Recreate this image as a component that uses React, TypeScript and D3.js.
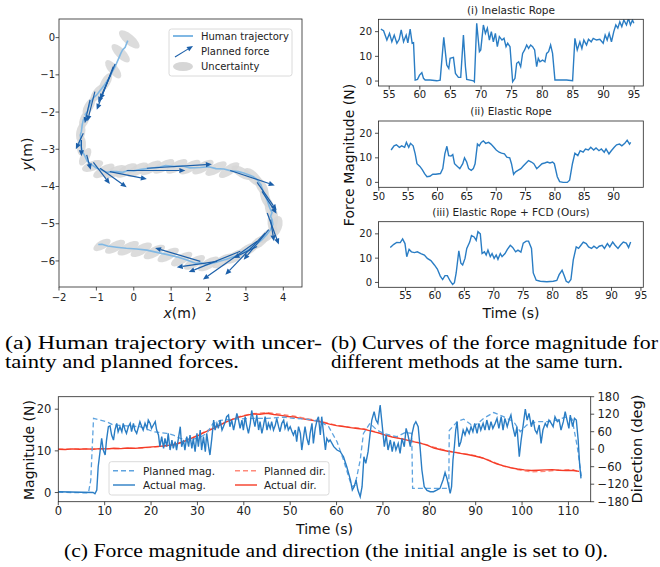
import React from 'react';
import * as d3 from 'd3';

const SANS = "'DejaVu Sans', sans-serif";
const SERIF = "'Liberation Serif', 'Times New Roman', serif";

// ---------------- Panel (a) data ----------------
const trajX = [-0.16,-0.2,-0.23,-0.3,-0.35,-0.4,-0.46,-0.5,-0.55,-0.6,-0.64,-0.72,-0.81,-0.9,-0.99,-1.08,-1.15,-1.2,-1.24,-1.3,-1.27,-1.35,-1.38,-1.4,-1.43,-1.42,-1.44,-1.4,-1.37,-1.3,-1.24,-1.12,-0.99,-0.86,-0.72,-0.6,-0.46,-0.3,-0.15,0.0,0.2,0.44,0.7,0.85,1.06,1.3,1.5,1.78,2.0,2.2,2.41,2.6,2.8,2.94,3.1,3.2,3.3,3.4,3.48,3.56,3.64,3.7,3.66,3.7,3.72,3.66,3.55,3.43,3.25,3.03,2.8,2.5,2.25,1.96,1.8,1.65,1.4,1.15,0.9,0.62,0.35,0.08,-0.2,-0.46,-0.7,-0.85,-0.95];
const trajY = [-0.08,-0.18,-0.26,-0.33,-0.43,-0.55,-0.69,-0.78,-0.87,-0.97,-1.05,-1.17,-1.31,-1.42,-1.54,-1.62,-1.72,-1.86,-1.99,-2.06,-2.12,-2.21,-2.35,-2.52,-2.62,-2.7,-2.85,-2.95,-3.06,-3.2,-3.33,-3.42,-3.51,-3.56,-3.62,-3.6,-3.6,-3.62,-3.57,-3.58,-3.54,-3.51,-3.48,-3.44,-3.46,-3.45,-3.5,-3.49,-3.47,-3.52,-3.53,-3.58,-3.6,-3.64,-3.7,-3.74,-3.82,-3.95,-4.18,-4.35,-4.58,-4.7,-4.8,-4.89,-5.02,-5.16,-5.3,-5.43,-5.58,-5.72,-5.84,-5.95,-6.02,-6.1,-6.05,-6.06,-5.97,-5.89,-5.83,-5.77,-5.71,-5.68,-5.66,-5.63,-5.6,-5.55,-5.56];

// uncertainty ellipses: [x, y, semi-major, semi-minor, angle deg (ccw)]
const ellipses = [
  [-0.12,-0.05,0.34,0.14,-40],[-0.35,-0.42,0.32,0.13,-45],[-0.55,-0.85,0.3,0.13,-50],
  [-0.75,-1.2,0.28,0.12,60],[-0.98,-1.5,0.28,0.12,55],[-1.2,-1.85,0.27,0.12,60],
  [-1.32,-2.2,0.26,0.12,70],[-1.42,-2.55,0.26,0.12,80],[-1.4,-2.9,0.26,0.12,85],
  [-1.3,-3.2,0.26,0.12,60],[-1.1,-3.45,0.3,0.13,20],[-0.8,-3.58,0.32,0.13,30],
  [-0.5,-3.6,0.32,0.13,25],[-0.2,-3.57,0.32,0.13,30],[0.1,-3.55,0.32,0.13,30],
  [0.45,-3.5,0.32,0.13,30],[0.8,-3.46,0.32,0.13,30],[1.15,-3.46,0.32,0.13,30],
  [1.5,-3.48,0.32,0.13,30],[1.85,-3.48,0.32,0.13,30],[2.2,-3.52,0.32,0.13,30],
  [2.55,-3.56,0.32,0.13,35],[2.9,-3.63,0.32,0.13,-30],[3.2,-3.75,0.32,0.14,-45],
  [3.42,-4.0,0.3,0.13,-60],[3.52,-4.3,0.28,0.12,-70],[3.63,-4.58,0.28,0.12,-80],
  [3.72,-4.9,0.32,0.14,85],[3.8,-5.08,0.3,0.16,70],[3.6,-5.3,0.3,0.13,40],
  [3.35,-5.5,0.3,0.13,35],[3.05,-5.7,0.32,0.13,30],[2.72,-5.88,0.32,0.13,30],
  [2.38,-6.0,0.32,0.13,30],[2.0,-6.08,0.32,0.13,30],[1.62,-6.04,0.32,0.13,30],
  [1.28,-5.95,0.32,0.13,30],[0.92,-5.84,0.32,0.13,30],[0.55,-5.76,0.32,0.13,30],
  [0.2,-5.7,0.32,0.13,30],[-0.15,-5.66,0.32,0.13,30],[-0.5,-5.62,0.3,0.13,30],
  [-0.85,-5.57,0.26,0.12,30],
];

// planned force arrows: [x0, y0, x1, y1]
const arrows = [
  [-0.5,-0.71,-0.9,-1.67],[-0.55,-0.78,-0.99,-1.94],[-0.62,-1.0,-0.95,-1.75],
  [-1.04,-1.45,-1.24,-2.25],[-1.17,-1.67,-1.31,-2.3],[-1.35,-2.57,-1.55,-3.0],
  [-1.4,-2.75,-1.4,-3.19],[-1.26,-3.15,-1.15,-3.55],[-1.08,-3.35,-0.64,-3.93],
  [-0.9,-3.51,-0.19,-4.02],[-0.64,-3.6,0.35,-3.8],[-0.19,-3.57,1.38,-3.57],
  [0.35,-3.51,2.09,-3.4],[2.58,-3.57,3.77,-3.97],[3.3,-3.89,3.82,-4.64],
  [3.43,-4.13,3.82,-4.73],[3.57,-4.71,3.88,-5.56],[3.66,-4.89,3.75,-5.47],
  [3.61,-5.16,2.94,-5.97],[3.52,-5.25,2.45,-6.37],[3.3,-5.47,1.85,-6.5],
  [2.85,-5.74,1.47,-6.3],[2.23,-6.01,1.15,-6.17],[1.78,-6.01,0.57,-5.65],
  [3.3,-5.61,2.67,-5.92],
];
const aXTicks = [-2,-1,0,1,2,3,4];
const aYTicks = [0,-1,-2,-3,-4,-5,-6];

// ---------------- Panel (b) data ----------------
const inelastic = [
  [53.64,21.0],[54.08,20.4],[54.62,16.6],[55.05,19.3],[55.43,15.9],[55.82,18.6],[56.25,15.3],[56.63,16.9],[56.96,20.7],[57.34,15.9],[57.77,18.6],[58.04,15.5],[58.42,21.0],[58.75,15.3],[58.97,15.5],[59.24,0.4],[59.62,0.7],[59.95,2.4],[60.33,3.4],[60.6,1.1],[60.87,0.4],[61.68,0.4],[62.77,0.1],[63.32,0.4],[63.91,17.7],[64.4,6.5],[64.73,5.1],[64.95,9.2],[65.49,9.6],[65.82,3.1],[66.3,1.5],[66.68,1.5],[67.12,18.6],[67.45,5.8],[67.66,0.7],[68.21,0.4],[68.75,0.1],[68.91,-0.3],[69.29,23.4],[69.73,11.9],[69.95,12.6],[70.38,22.7],[70.71,19.3],[71.03,21.4],[71.36,16.6],[71.68,20.0],[72.01,15.9],[72.34,19.3],[72.66,13.9],[72.99,18.0],[73.42,16.6],[73.75,17.3],[74.08,13.9],[74.35,15.3],[74.73,13.9],[75.16,-0.3],[75.54,1.1],[75.82,7.2],[76.14,7.8],[76.47,5.8],[76.79,11.2],[77.12,12.6],[77.45,14.6],[77.77,13.2],[78.1,14.6],[78.42,13.9],[78.75,12.6],[79.08,5.8],[79.35,9.2],[79.62,7.8],[80.05,8.5],[80.43,7.8],[80.71,11.2],[81.03,11.9],[81.36,14.6],[81.68,11.2],[82.07,0.4],[82.88,0.4],[83.97,0.4],[84.95,0.1],[85.33,17.3],[85.71,12.6],[86.14,15.9],[86.47,13.2],[86.79,16.6],[87.23,14.6],[87.55,16.9],[87.99,15.9],[88.32,17.3],[88.86,16.6],[89.4,16.9],[89.95,15.3],[90.27,18.6],[90.6,16.6],[90.92,19.3],[91.3,15.9],[91.68,20.0],[92.01,22.7],[92.34,21.4],[92.66,24.0],[92.99,22.0],[93.32,24.7],[93.75,22.7],[94.08,25.4],[94.4,22.7],[94.73,24.7],[94.95,23.4],
];
const elastic = [
  [52.1,13.2],[52.6,14.9],[53.0,15.3],[53.5,14.3],[53.9,14.9],[54.4,14.3],[54.7,16.3],[55.1,14.3],[55.4,15.9],[55.85,14.9],[56.2,11.6],[56.5,7.6],[57.0,6.5],[57.4,5.2],[57.8,3.6],[58.2,2.3],[58.7,2.5],[59.2,3.3],[59.7,3.3],[60.5,3.6],[60.9,5.6],[61.25,11.6],[61.6,14.7],[61.9,10.9],[62.3,10.7],[62.6,11.3],[62.9,7.6],[63.4,6.5],[63.8,5.6],[64.3,7.6],[64.6,10.0],[64.97,8.3],[65.3,5.6],[65.75,4.9],[66.1,5.6],[66.4,7.6],[66.8,15.6],[67.1,14.9],[67.45,16.3],[67.8,16.9],[68.2,15.9],[68.7,16.3],[69.1,15.6],[69.6,14.3],[70.0,13.2],[70.5,12.3],[70.9,11.9],[71.4,11.6],[71.8,10.3],[72.3,10.0],[72.6,7.6],[72.96,3.3],[73.3,4.3],[73.7,4.9],[74.2,5.6],[74.6,6.7],[75.1,7.9],[75.5,8.9],[76.0,8.3],[76.4,7.6],[76.9,5.6],[77.3,6.5],[77.8,7.6],[78.25,7.9],[78.7,8.3],[79.15,7.9],[79.6,8.3],[79.9,7.6],[80.4,2.3],[80.8,0.3],[81.4,0.0],[82.1,0.0],[82.5,0.9],[82.98,7.6],[83.4,11.9],[83.9,10.9],[84.3,12.9],[84.8,12.3],[85.2,13.6],[85.7,13.2],[86.1,14.3],[86.6,13.2],[87.0,14.0],[87.5,12.9],[87.9,13.6],[88.4,12.3],[88.7,13.6],[89.2,11.6],[89.6,12.9],[90.1,14.3],[90.5,15.3],[91.0,15.6],[91.4,14.9],[91.9,15.9],[92.3,17.2],[92.7,15.6],[92.9,16.3],
];
const fcd = [
  [52.4,14.4],[53.0,15.7],[53.5,16.5],[54.1,16.4],[54.5,17.9],[54.9,16.0],[55.2,10.6],[55.6,13.6],[56.0,12.6],[56.5,12.3],[57.0,12.6],[57.6,11.9],[58.2,11.3],[58.7,9.9],[59.3,9.0],[59.9,7.2],[60.4,5.5],[60.9,2.6],[61.3,1.2],[61.7,2.8],[62.1,2.8],[62.6,0.5],[63.0,-0.8],[63.3,-0.1],[63.6,3.9],[64.05,13.0],[64.4,7.9],[64.7,7.2],[65.1,9.9],[65.4,14.0],[65.9,16.6],[66.2,19.3],[66.65,18.7],[67.0,17.3],[67.3,20.9],[67.7,20.0],[68.0,11.9],[68.4,12.6],[68.7,11.3],[69.0,13.3],[69.4,10.6],[69.7,11.9],[70.05,9.9],[70.4,11.3],[70.7,9.5],[71.1,11.9],[71.4,10.6],[71.9,11.9],[72.3,13.6],[72.8,15.3],[73.2,14.4],[73.7,12.6],[74.1,13.3],[74.6,12.5],[75.0,16.2],[75.5,17.0],[75.9,17.0],[76.4,14.0],[76.7,3.9],[77.2,0.9],[77.9,0.5],[79.0,0.3],[80.1,0.5],[80.7,0.8],[81.1,3.2],[81.6,5.0],[81.9,3.2],[82.3,0.5],[82.7,-0.1],[83.1,1.2],[83.5,9.3],[84.0,14.6],[84.4,14.0],[84.8,15.3],[85.2,16.6],[85.7,16.0],[86.1,14.6],[86.6,14.0],[87.0,14.9],[87.5,14.0],[87.9,14.9],[88.4,15.3],[88.8,14.0],[89.3,16.0],[89.7,14.6],[90.2,16.6],[90.6,15.3],[91.1,14.0],[91.5,15.3],[92.0,16.6],[92.5,16.2],[92.9,14.4],[93.25,16.6],
];
const bTitles = ['(i) Inelastic Rope', '(ii) Elastic Rope', '(iii) Elastic Rope + FCD (Ours)'];
const b1XTicks = [55,60,65,70,75,80,85,90,95];
const b2XTicks = [50,55,60,65,70,75,80,85,90];
const b3XTicks = [55,60,65,70,75,80,85,90,95];
const bYTicks = [0,10,20];

// ---------------- Panel (c) data ----------------
const plannedMag = [
  [0,0.1],[6.5,-0.1],[7.0,3],[7.6,17.8],[9,17.4],[10.4,17],[11.9,16.2],[14.7,16],[17.6,15.8],[19.1,15.2],[20.5,14.6],[21.9,14.4],[23.4,14.2],[24.8,13.8],[26.3,13],[27.7,12.8],[29.1,12.8],[30.6,13.3],[32,14.2],[33.3,16.5],[34.9,17.3],[37.8,17.6],[41.4,17.8],[45,17.8],[48.6,18.1],[50.7,17.8],[53.6,17.6],[56.5,17],[58.3,15.8],[60.1,12.2],[61.5,7.8],[62.6,3.8],[63.3,1.4],[64,1.8],[65.1,7.8],[65.8,14.2],[67.2,16.6],[68.7,15],[70.1,14.2],[73,13.4],[74.8,14.4],[76.2,14.2],[76.4,1],[78.8,1],[83.1,1],[84.2,1],[84.3,14.9],[86,17],[87.4,17.6],[89.6,15.8],[91.7,17.8],[93.9,19.2],[96,18.2],[98.2,17],[99.6,14.6],[101,16.2],[103.2,17],[105.4,17],[107.5,17.4],[109.7,18.2],[110.8,17.6],[111.9,11],[112.8,3.8],
];
const actualMag = [
  [0,0.2],[7.5,0],[7.9,-0.3],[8.3,0.6],[8.6,6.2],[9,9.8],[9.35,13],[9.7,10.2],[10.1,9],[10.4,12.6],[10.8,15.8],[11.15,16],[11.5,13.8],[11.9,12.6],[12.2,15],[12.6,16.6],[12.9,14.6],[13.3,15.8],[13.7,14.6],[14,16.6],[14.4,15],[14.7,14.2],[15.1,15.8],[15.5,16.6],[15.8,14.6],[16.2,16.6],[16.5,15],[16.9,14.2],[17.3,15.8],[17.6,17],[18,15.8],[18.3,15],[18.7,16.6],[19.1,15.4],[19.4,17.4],[19.8,16.6],[20.1,15.4],[20.5,16.2],[20.9,17],[21.2,15],[21.6,13.8],[21.9,11],[22.3,13.4],[22.7,10.6],[23,13],[23.4,11],[23.7,14.2],[24.1,10.2],[24.5,12.6],[24.8,10.6],[25.2,12.2],[25.5,10.2],[25.9,13],[26.3,15.8],[26.6,11],[27,12.6],[27.3,10.2],[27.7,13.4],[28.1,11],[28.4,13.8],[28.8,10.6],[29.1,13],[29.5,9.8],[29.9,14.2],[30.2,11],[30.6,15],[30.9,10.2],[31.3,13.4],[31.7,9.8],[32,14.2],[32.4,11],[32.7,9],[33.1,13],[33.5,17.4],[33.8,15],[34.2,16.6],[34.5,15.4],[34.9,17.4],[35.3,15],[35.6,15.8],[36,17],[36.3,18.2],[36.7,18.6],[37,15.8],[37.4,17.4],[37.8,15],[38.1,16.6],[38.5,19],[38.8,17.8],[39.2,15.4],[39.6,17.4],[39.9,15],[40.3,18.2],[40.6,16.2],[41,14.2],[41.4,16.6],[41.7,19.7],[42.1,17.4],[42.4,15.8],[42.8,18.6],[43.2,15],[43.5,17],[43.9,14.2],[44.2,15.8],[44.6,18.2],[45,15],[45.3,16.6],[45.7,15.4],[46,17],[46.4,15],[46.8,16.2],[47.1,17.8],[47.5,15.8],[47.8,14.6],[48.2,16.6],[48.6,17.4],[48.9,15.4],[49.3,16.6],[49.6,15],[50,15.8],[50.4,14.6],[50.7,13.8],[51.1,15],[51.4,12.2],[51.8,15.8],[52.2,14.2],[52.5,10.2],[52.9,13.4],[53.2,15.8],[53.6,13],[54,11.4],[54.3,14.2],[54.7,16.6],[55,11.8],[55.4,15.4],[55.8,17.4],[56.1,18.2],[56.5,13.8],[56.8,18.2],[57.2,14.2],[57.6,10.2],[57.9,13],[58.3,12.2],[58.6,12.6],[59.4,11],[60.1,10.2],[60.8,9.8],[61.5,8.6],[62.2,6.2],[63,3],[63.4,0.6],[63.8,1.4],[64.2,3],[64.6,0.6],[65.1,-1],[65.5,1.4],[65.9,8.6],[66.3,7],[66.8,9.8],[67.2,13.8],[67.6,17.4],[68.1,19.4],[68.5,17.4],[68.9,16.6],[69.4,21],[69.8,16.6],[70.3,11],[70.7,13.8],[71.1,10.2],[71.6,12.6],[72,9.8],[72.4,12.2],[72.8,10.2],[73.3,11.8],[73.7,9.4],[74.1,13],[74.6,11],[75,15.4],[75.4,13.8],[75.9,11],[76.3,14.2],[76.7,16.2],[77.1,17],[77.6,15.8],[78,11],[78.4,5.4],[78.9,1.4],[79.5,0.5],[80.2,0.2],[80.9,0.2],[81.6,0.6],[82.3,1],[82.96,3],[83.4,4.8],[83.8,3.4],[84.2,1.4],[84.5,-0.2],[84.8,1.4],[85.1,7.8],[85.4,11],[85.7,15],[86,17],[86.4,11],[86.8,12.2],[87.3,15],[87.7,13.8],[88.1,15.4],[88.6,14.2],[89,15.8],[89.4,14.6],[89.8,16.6],[90.3,14.2],[90.7,16.6],[91.1,15],[91.6,16.6],[92,15],[92.4,17.4],[92.9,15],[93.3,17],[93.7,15.4],[94.2,16.6],[94.6,17.8],[95,15.4],[95.5,18.2],[95.9,15],[96.3,17.8],[96.8,15.8],[97.2,17.4],[97.6,18.6],[98,15.8],[98.5,13.4],[98.9,15.8],[99.4,8.6],[99.8,12.6],[100.2,15.8],[100.7,20],[101.1,17.4],[101.5,19],[102,15.8],[102.4,17.4],[102.8,15],[103.2,14.2],[103.7,16.2],[104.1,11.8],[104.5,15],[105,16.6],[105.4,15.8],[105.8,17.4],[106.3,16.6],[106.7,15.8],[107.1,18.2],[107.6,17],[108,17.4],[108.4,15],[108.9,17],[109.3,19.4],[109.7,17.4],[110.1,15.4],[110.4,18.6],[110.9,15.8],[111.3,17.8],[111.7,17.4],[112.1,12.6],[112.4,7],[112.7,3.4],
];
const plannedDir = [
  [0,0],[5,1],[10,1.5],[15,3],[20,6],[24,12],[27,25],[30,48],[33,70],[36,92],[39,112],[42,122],[45,126],[48,120],[51,113],[54,104],[57,94],[60,82],[63,75],[66,70],[69,57],[72,44],[75,33],[78,22],[81,7],[84,-6],[87,-14],[90,-22],[93,-38],[96,-58],[99,-70],[102,-78],[105,-76],[108,-72],[111,-70],[112.3,-78],
];
const actualDir = [
  [0,0],[1.5,-1],[3,1],[4.5,0],[6,1],[7.5,0],[9,2],[10.5,1],[12,3],[13.5,2],[15,4],[16.5,3],[18,5],[19.5,7],[21,9],[22.5,11],[24,14],[25.5,18],[27,26],[28.5,36],[30,46],[31.5,58],[33,68],[34.5,80],[36,92],[37.5,102],[39,110],[40.5,116],[42,121],[43.5,120],[45,123],[46.5,119],[48,116],[49.5,112],[51,110],[52.5,105],[54,101],[55.5,97],[57,92],[58.5,86],[60,81],[61.5,78],[63,74],[64.5,71],[66,68],[67.5,62],[69,56],[70.5,48],[72,42],[73.5,37],[75,32],[76.5,26],[78,21],[79.5,14],[81,4],[82.5,-2],[84,-7],[85.5,-11],[87,-15],[88.5,-19],[90,-24],[91.5,-30],[93,-40],[94.5,-50],[96,-57],[97.5,-63],[99,-68],[100.5,-71],[102,-73],[103.5,-72],[105,-71],[106.5,-70],[108,-72],[109.5,-73],[111,-73],[112.3,-76],
];
const cXTicks = [0,10,20,30,40,50,60,70,80,90,100,110];
const cYTicks = [0,10,20];
const cDirTicks = [-180,-120,-60,0,60,120,180];

const fmt = (v: number) => (v < 0 ? '\u2212' + Math.abs(v) : String(v));

const C_TRAJ = '#80b8e4';
const C_ARROW = '#1b5fa9';
const C_ELL = '#d6d6d6';
const C_BLUE = '#2a7dc4';
const C_BLUE_L = '#5ea3df';
const C_RED = '#f53b26';
const C_RED_L = '#ff8a7a';
const SPINE = '#262626';

function Frame({ x0, x1, y0, y1, xs, ys, xTicks, yTicks, size, xLabY, yLabX }: any) {
  return (
    <g>
      <rect x={x0} y={y0} width={x1 - x0} height={y1 - y0} fill="none" stroke={SPINE} strokeWidth={0.8} />
      {xTicks.map((t: number) => (
        <g key={'x' + t}>
          <line x1={xs(t)} x2={xs(t)} y1={y1} y2={y1 + 3.5} stroke={SPINE} strokeWidth={0.8} />
          <text x={xs(t)} y={xLabY} fontSize={size} fontFamily={SANS} textAnchor="middle" fill="#222">{fmt(t)}</text>
        </g>
      ))}
      {yTicks.map((t: number) => (
        <g key={'y' + t}>
          <line x1={x0 - 3.5} x2={x0} y1={ys(t)} y2={ys(t)} stroke={SPINE} strokeWidth={0.8} />
          <text x={yLabX} y={ys(t) + size * 0.36} fontSize={size} fontFamily={SANS} textAnchor="end" fill="#222">{fmt(t)}</text>
        </g>
      ))}
    </g>
  );
}

function arrowShape(x0: number, y0: number, x1: number, y1: number, key: string, color: string, w = 1.2) {
  const ang = Math.atan2(y1 - y0, x1 - x0);
  const hl = 6, hw = 2.6;
  const bx = x1 - hl * Math.cos(ang), by = y1 - hl * Math.sin(ang);
  const px = -Math.sin(ang), py = Math.cos(ang);
  const pts = [[x1, y1], [bx + hw * px, by + hw * py], [bx - hw * px, by - hw * py]];
  return (
    <g key={key}>
      <line x1={x0} y1={y0} x2={bx} y2={by} stroke={color} strokeWidth={w} />
      <polygon points={pts.map((p) => p.join(',')).join(' ')} fill={color} />
    </g>
  );
}

export default function App() {
  // Panel (a)
  const xA = d3.scaleLinear().domain([-2, 4.5]).range([59, 302]);
  const yA = d3.scaleLinear().domain([-6.7, 0.5]).range([287, 19]);
  const unit = xA(1) - xA(0);
  const trajLine = d3.line<number>().x((_, i) => xA(trajX[i])).y((_, i) => yA(trajY[i]));

  // Panel (b)
  const bX0 = 378.5, bX1 = 643.3;
  const bBoxes = [
    { y0: 19.3, y1: 86, dom: [53.25, 96.5], data: inelastic, ticks: b1XTicks, labY: 98, titleY: 14 },
    { y0: 121, y1: 187.3, dom: [49.95, 95.05], data: elastic, ticks: b2XTicks, labY: 199.7, titleY: 114.5 },
    { y0: 221.7, y1: 287.3, dom: [50.4, 95.4], data: fcd, ticks: b3XTicks, labY: 298.7, titleY: 215.5 },
  ];

  // Panel (c)
  const cx0 = 58.3, cx1 = 590.7, cy0 = 396.7, cy1 = 501.7;
  const xC = d3.scaleLinear().domain([0, 114.8]).range([cx0, cx1]);
  const yC = d3.scaleLinear().domain([-2.2, 23]).range([cy1, cy0]);
  const yD = d3.scaleLinear().domain([-180, 180]).range([cy1, cy0]);
  const magLine = d3.line<number[]>().x((d) => xC(d[0])).y((d) => yC(d[1]));
  const dirLine = d3.line<number[]>().x((d) => xC(d[0])).y((d) => yD(d[1]));

  return (
    <svg width={660} height={567} style={{ position: 'absolute', left: 0, top: 0, background: '#fff' }}>
      <defs>
        <clipPath id="clipA"><rect x={59} y={19} width={243} height={268} /></clipPath>
        {bBoxes.map((b, i) => (
          <clipPath id={'clipB' + i} key={i}><rect x={bX0} y={b.y0} width={bX1 - bX0} height={b.y1 - b.y0} /></clipPath>
        ))}
        <clipPath id="clipC"><rect x={cx0} y={cy0} width={cx1 - cx0} height={cy1 - cy0} /></clipPath>
      </defs>
      <rect x={0} y={0} width={660} height={567} fill="#fff" />

      {/* ---------- Panel (a) ---------- */}
      <g clipPath="url(#clipA)">
        {ellipses.map((e, i) => (
          <ellipse key={i} cx={0} cy={0} rx={e[2] * unit} ry={e[3] * unit} fill={C_ELL} fillOpacity={0.85}
            transform={`translate(${xA(e[0])},${yA(e[1])}) rotate(${-e[4]})`} />
        ))}
        <path d={trajLine(trajX) || ''} fill="none" stroke={C_TRAJ} strokeWidth={1.6} />
        {arrows.map((a, i) => arrowShape(xA(a[0]), yA(a[1]), xA(a[2]), yA(a[3]), 'ar' + i, C_ARROW))}
      </g>
      <Frame x0={59} x1={302} y0={19} y1={287} xs={xA} ys={yA} xTicks={aXTicks} yTicks={aYTicks} size={10} xLabY={300.6} yLabX={55} />
      {/* legend a */}
      <rect x={169} y={29} width={123} height={47} rx={2.5} fill="#fff" fillOpacity={0.85} stroke="#d0d0d0" strokeWidth={0.8} />
      <line x1={173} x2={193} y1={36} y2={36} stroke={C_TRAJ} strokeWidth={2} />
      <text x={201} y={39.6} fontSize={10} fontFamily={SANS} fill="#222">Human trajectory</text>
      {arrowShape(175, 57, 193, 46, 'legar', C_ARROW, 1.1)}
      <text x={201} y={55.3} fontSize={10} fontFamily={SANS} fill="#222">Planned force</text>
      <ellipse cx={183} cy={66.5} rx={10} ry={4.5} fill={C_ELL} />
      <text x={201} y={70} fontSize={10} fontFamily={SANS} fill="#222">Uncertainty</text>
      <text x={180} y={318} fontSize={14} fontFamily={SANS} textAnchor="middle" fill="#111">
        <tspan fontStyle="italic">x</tspan>(m)
      </text>
      <text transform="translate(32,154) rotate(-90)" fontSize={14} fontFamily={SANS} textAnchor="middle" fill="#111">
        <tspan fontStyle="italic">y</tspan>(m)
      </text>

      {/* ---------- Panel (b) ---------- */}
      {bBoxes.map((b, i) => {
        const xs = d3.scaleLinear().domain(b.dom).range([bX0, bX1]);
        const ys = d3.scaleLinear().domain([-2, 25]).range([b.y1, b.y0]);
        const ln = d3.line<number[]>().x((d) => xs(d[0])).y((d) => ys(d[1]));
        return (
          <g key={'b' + i}>
            <g clipPath={`url(#clipB${i})`}>
              <path d={ln(b.data as number[][]) || ''} fill="none" stroke={C_BLUE} strokeWidth={1.4} />
            </g>
            <Frame x0={bX0} x1={bX1} y0={b.y0} y1={b.y1} xs={xs} ys={ys} xTicks={b.ticks} yTicks={bYTicks} size={10} xLabY={b.labY} yLabX={372} />
            <text x={511} y={b.titleY} fontSize={10.5} fontFamily={SANS} textAnchor="middle" fill="#222">{bTitles[i]}</text>
          </g>
        );
      })}
      <text transform="translate(354,155) rotate(-90)" fontSize={14} fontFamily={SANS} textAnchor="middle" fill="#111">Force Magnitude (N)</text>
      <text x={511} y={318} fontSize={14} fontFamily={SANS} textAnchor="middle" fill="#111">Time (s)</text>

      {/* ---------- Captions a / b ---------- */}
      <text x={5} y={349} fontSize={18.5} fontFamily={SERIF} textLength={317} lengthAdjust="spacingAndGlyphs" fill="#000">(a) Human trajectory with uncer-</text>
      <text x={5} y={367.5} fontSize={18.5} fontFamily={SERIF} textLength={234} lengthAdjust="spacingAndGlyphs" fill="#000">tainty and planned forces.</text>
      <text x={331} y={349} fontSize={18.5} fontFamily={SERIF} textLength={327} lengthAdjust="spacingAndGlyphs" fill="#000">(b) Curves of the force magnitude for</text>
      <text x={331} y={367.5} fontSize={18.5} fontFamily={SERIF} textLength={292} lengthAdjust="spacingAndGlyphs" fill="#000">different methods at the same turn.</text>

      {/* ---------- Panel (c) ---------- */}
      <g clipPath="url(#clipC)">
        <path d={dirLine(plannedDir) || ''} fill="none" stroke={C_RED_L} strokeWidth={1.3} strokeDasharray="5,3" />
        <path d={dirLine(actualDir) || ''} fill="none" stroke={C_RED} strokeWidth={1.4} />
        <path d={magLine(plannedMag) || ''} fill="none" stroke={C_BLUE_L} strokeWidth={1.3} strokeDasharray="5,3" />
        <path d={magLine(actualMag) || ''} fill="none" stroke={C_BLUE} strokeWidth={1.4} />
      </g>
      <Frame x0={cx0} x1={cx1} y0={cy0} y1={cy1} xs={xC} ys={yC} xTicks={cXTicks} yTicks={cYTicks} size={11.5} xLabY={515} yLabX={51.3} />
      {cDirTicks.map((t) => (
        <g key={'d' + t}>
          <line x1={cx1} x2={cx1 + 3.5} y1={yD(t)} y2={yD(t)} stroke={SPINE} strokeWidth={0.8} />
          <text x={597.5} y={yD(t) + 4.1} fontSize={11.5} fontFamily={SANS} fill="#222">{fmt(t)}</text>
        </g>
      ))}
      {/* legend c */}
      <rect x={109} y={461.7} width={220} height={33.3} rx={2.5} fill="#fff" fillOpacity={0.85} stroke="#d0d0d0" strokeWidth={0.8} />
      <line x1={113} x2={135} y1={470.7} y2={470.7} stroke={C_BLUE_L} strokeWidth={1.4} strokeDasharray="5,3" />
      <text x={143} y={474.5} fontSize={10.5} fontFamily={SANS} fill="#222">Planned mag.</text>
      <line x1={113} x2={135} y1={485} y2={485} stroke={C_BLUE} strokeWidth={1.4} />
      <text x={143} y={488.8} fontSize={10.5} fontFamily={SANS} fill="#222">Actual mag.</text>
      <line x1={235} x2={257} y1={470.7} y2={470.7} stroke={C_RED_L} strokeWidth={1.4} strokeDasharray="5,3" />
      <text x={264} y={474.5} fontSize={10.5} fontFamily={SANS} fill="#222">Planned dir.</text>
      <line x1={235} x2={257} y1={485} y2={485} stroke={C_RED} strokeWidth={1.4} />
      <text x={264} y={488.8} fontSize={10.5} fontFamily={SANS} fill="#222">Actual dir.</text>

      <text transform="translate(34,450) rotate(-90)" fontSize={14} fontFamily={SANS} textAnchor="middle" fill="#111">Magnitude (N)</text>
      <text transform="translate(642,449) rotate(-90)" fontSize={14.5} fontFamily={SANS} textAnchor="middle" fill="#111">Direction (deg)</text>
      <text x={324.5} y={534} fontSize={14} fontFamily={SANS} textAnchor="middle" fill="#111">Time (s)</text>

      <text x={336} y={557} fontSize={18.5} fontFamily={SERIF} textAnchor="middle" textLength={544} lengthAdjust="spacingAndGlyphs" fill="#000">(c) Force magnitude and direction (the initial angle is set to 0).</text>
    </svg>
  );
}
